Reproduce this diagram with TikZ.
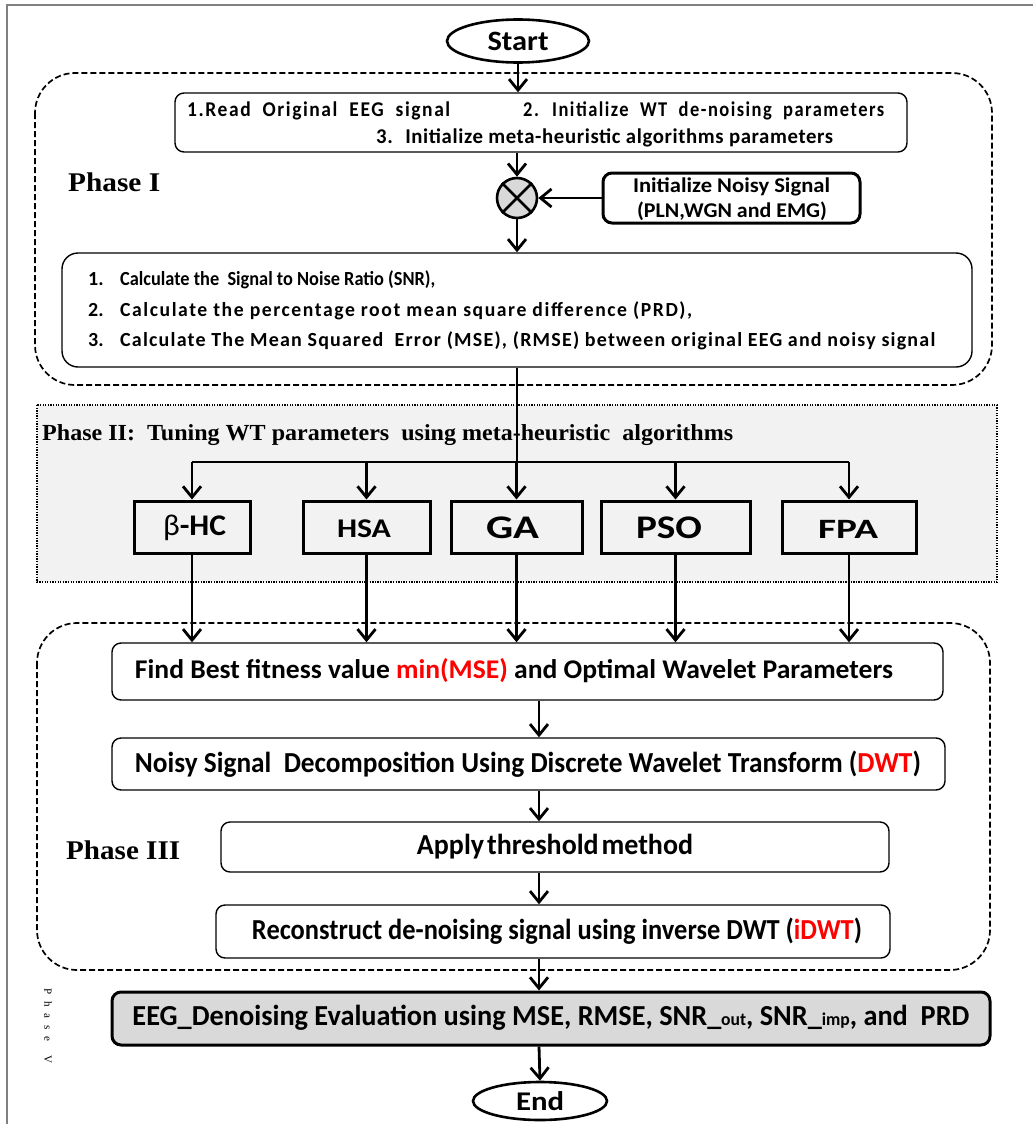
\documentclass[tikz,border=0pt]{standalone}
\usepackage{fontspec}
\setmainfont{Carlito}
\newfontfamily\tnr{Liberation Serif}
\usetikzlibrary{arrows.meta,shapes.geometric}
% squeeze or stretch a text horizontally to a fixed width
\newcommand{\fw}[2]{\resizebox{#1}{\height}{#2}}
\newcommand{\fsz}[1]{\fontsize{#1}{#1}\selectfont}
% letter-spaced bold text
\newcommand{\ls}[2]{{\addfontfeature{LetterSpace=#1}#2}}
\definecolor{framegray}{HTML}{808080}
\definecolor{phasefill}{HTML}{F2F2F2}
\definecolor{boxgray}{HTML}{D9D9D9}
\definecolor{hl}{HTML}{FF0000}
\begin{document}
\begin{tikzpicture}[x=1pt,y=-1pt,
  thinbox/.style={draw, line width=1.4pt, rounded corners=9pt, inner sep=0pt},
  thickbox/.style={draw, line width=3pt, rounded corners=9pt, inner sep=0pt},
  algbox/.style={draw, line width=3pt, inner sep=0pt, minimum height=52pt},
  term/.style={draw, ellipse, line width=2.6pt, inner sep=0pt},
  txt/.style={inner sep=0pt, font=\bfseries},
  link/.style={line width=2.8pt},
  arr/.style={line width=2.8pt, -{Straight Barb[length=11pt,width=18pt]}},
  phaseframe/.style={line width=1.7pt, dash pattern=on 6pt off 3pt, rounded corners=40pt}
]
\useasboundingbox (0,0) rectangle (1033,1124);

% page frame (top and left edges only)
\draw[framegray, line width=1.5pt] (1033,5) -- (7,5) -- (7,1124);

% ---------------- Phase I ----------------
\draw[phaseframe] (35,73) rectangle (992,385);
\node[txt, anchor=west, font=\tnr\bfseries\fsz{27}] (ph1) at (68,182) {\fw{92pt}{Phase I}};

\node[term, minimum width=142pt, minimum height=43pt] (start) at (518,41) {};
\node[txt, font=\bfseries\fsz{28}] (startlbl) at (518,41) {\fw{61pt}{Start}};

\node[thinbox, minimum width=732pt, minimum height=59pt] (read) at (541,122.5) {};
\node[txt, anchor=west, font=\bfseries\fsz{21}] (r1) at (187,111) {\fw{263pt}{\ls{8}{1.Read~ Original~ EEG~ signal}}};
\node[txt, anchor=west, font=\bfseries\fsz{21}] (r2) at (523,111) {\fw{361pt}{\ls{8}{2.~ Initialize~ WT~ de-noising~ parameters}}};
\node[txt, anchor=west, font=\bfseries\fsz{21}] (r3) at (376,138) {\fw{457pt}{\ls{3}{3.~ Initialize meta-heuristic algorithms parameters}}};

\node[circle, draw, line width=2.6pt, fill=boxgray, minimum size=40pt, inner sep=0pt] (mix) at (517,198) {};
\draw[line width=2.6pt] (mix.north west) -- (mix.south east) (mix.north east) -- (mix.south west);

\node[thickbox, minimum width=257pt, minimum height=50pt] (noisy) at (731.5,198) {};
\node[txt, font=\bfseries\fsz{21}] (n1) at (731.5,187) {\fw{197pt}{Initialize Noisy Signal}};
\node[txt, font=\bfseries\fsz{21}] (n2) at (732,211) {\fw{190pt}{(PLN,WGN and EMG)}};

\node[thinbox, rounded corners=16pt, minimum width=910pt, minimum height=114pt] (calc) at (517,310) {};
\node[txt, anchor=west, font=\bfseries\fsz{20}] (c1) at (88,280) {\makebox[32pt][l]{1.}\fw{315pt}{Calculate the~ Signal to Noise Ratio (SNR),}};
\node[txt, anchor=west, font=\bfseries\fsz{20}] (c2) at (88,311) {\makebox[32pt][l]{2.}\fw{572pt}{\ls{8}{Calculate the percentage root mean square difference (PRD),}}};
\node[txt, anchor=west, font=\bfseries\fsz{20}] (c3) at (88,341) {\makebox[32pt][l]{3.}\fw{815pt}{\ls{6}{Calculate The Mean Squared~ Error (MSE), (RMSE) between original EEG and noisy signal}}};

\draw[arr] (start.south) -- (start.south |- read.north);
\draw[arr] (read.south -| mix.north) -- (mix.north);
\draw[arr] (noisy.west) -- (mix.east);
\draw[arr] (mix.south) -- (mix.south |- calc.north);

% ---------------- Phase II ----------------
\draw[fill=phasefill, line width=1.3pt, dash pattern=on 1.3pt off 1.3pt] (37,405) rectangle (997,582);
\node[txt, anchor=west, font=\tnr\bfseries\fsz{23}] (ph2) at (42,435) {\fw{691pt}{Phase II:~ Tuning WT parameters~ using meta-heuristic~ algorithms}};

\node[algbox, minimum width=116pt] (hc)  at (192,527) {};
\node[algbox, minimum width=127pt] (hsa) at (366.5,527) {};
\node[algbox, minimum width=131pt] (ga)  at (516.5,527) {};
\node[algbox, minimum width=149pt] (pso) at (675.5,527) {};
\node[algbox, minimum width=134pt] (fpa) at (849,527) {};
\node[txt, font=\bfseries\fsz{30}] (hcl)  at (194.5,528) {\fw{63pt}{{\mdseries β}-HC}};
\node[txt, font=\bfseries\fsz{27}] (hsal) at (364,529) {\fw{54pt}{HSA}};
\node[txt, font=\bfseries\fsz{33}] (gal)  at (512.5,528) {\fw{53pt}{GA}};
\node[txt, font=\bfseries\fsz{33}] (psol) at (669,528) {\fw{66pt}{PSO}};
\node[txt, font=\bfseries\fsz{28}] (fpal) at (848,529) {\fw{60pt}{FPA}};

\coordinate (bus) at (517,462);
\draw[link] (calc.south -| bus) -- (bus);
\draw[link] (hc.north |- bus) -- (fpa.north |- bus);
\foreach \b in {hc,hsa,ga,pso,fpa}
  \draw[arr] (\b.north |- bus) -- (\b.north);

% ---------------- Phase III ----------------
\draw[phaseframe] (37,623) rectangle (990,970);
\node[txt, anchor=west, font=\tnr\bfseries\fsz{27}] (ph3) at (66,850) {\fw{114pt}{Phase III}};

\node[thinbox, minimum width=831pt, minimum height=57pt] (find) at (527.5,671.5) {};
\node[txt, font=\bfseries\fsz{27}] (findl) at (514,671) {\fw{758pt}{Find Best fitness value \textcolor{hl}{min(MSE)} and Optimal Wavelet Parameters}};

\node[thinbox, minimum width=833pt, minimum height=52pt] (dwt) at (528.5,764) {};
\node[txt, font=\bfseries\fsz{29}] (dwtl) at (528,764) {\fw{786pt}{Noisy Signal~ Decomposition Using Discrete Wavelet Transform (\textcolor{hl}{DWT})}};

\node[thinbox, minimum width=668pt, minimum height=50pt] (thr) at (555,847) {};
\node[txt, font=\bfseries\fsz{29}] (thrl) at (555,847) {\fw{276pt}{Apply\hspace{3pt}threshold\hspace{3pt}method}};

\node[thinbox, minimum width=674pt, minimum height=53pt] (rec) at (553,931.5) {};
\node[txt, font=\bfseries\fsz{29}] (recl) at (557,931) {\fw{610pt}{Reconstruct de-noising signal using inverse DWT (\textcolor{hl}{iDWT})}};

\foreach \b in {hc,hsa,ga,pso,fpa}
  \draw[arr] (\b.south) -- (\b.south |- find.north);

\coordinate (col) at (539,0);
\draw[arr] (find.south -| col) -- (dwt.north -| col);
\draw[arr] (dwt.south -| col) -- (thr.north -| col);
\draw[arr] (thr.south -| col) -- (rec.north -| col);

% ---------------- evaluation ----------------
\node[font=\tnr\fsz{11}, rotate=-90, inner sep=0pt] (ph5) at (48,1026) {P\hspace{7pt}h\hspace{7pt}a\hspace{7pt}s\hspace{7pt}e\hspace{14pt}V};

\node[thickbox, fill=boxgray, minimum width=878pt, minimum height=53pt] (eval) at (551,1018.5) {};
\node[txt, font=\bfseries\fsz{29}] (evall) at (551,1018) {\fw{837pt}{EEG\_Denoising Evaluation using MSE, RMSE, SNR\_{\fsz{18}out}, SNR\_{\fsz{18}imp}, and~ PRD}};

\node[term, minimum width=134pt, minimum height=38pt] (end) at (540,1101) {};
\node[txt, font=\bfseries\fsz{27}] (endl) at (540,1101) {\fw{48pt}{End}};

\draw[arr] (rec.south -| col) -- (eval.north -| col);
\draw[arr] (eval.south -| col) -- (end.north);
\end{tikzpicture}
\end{document}
